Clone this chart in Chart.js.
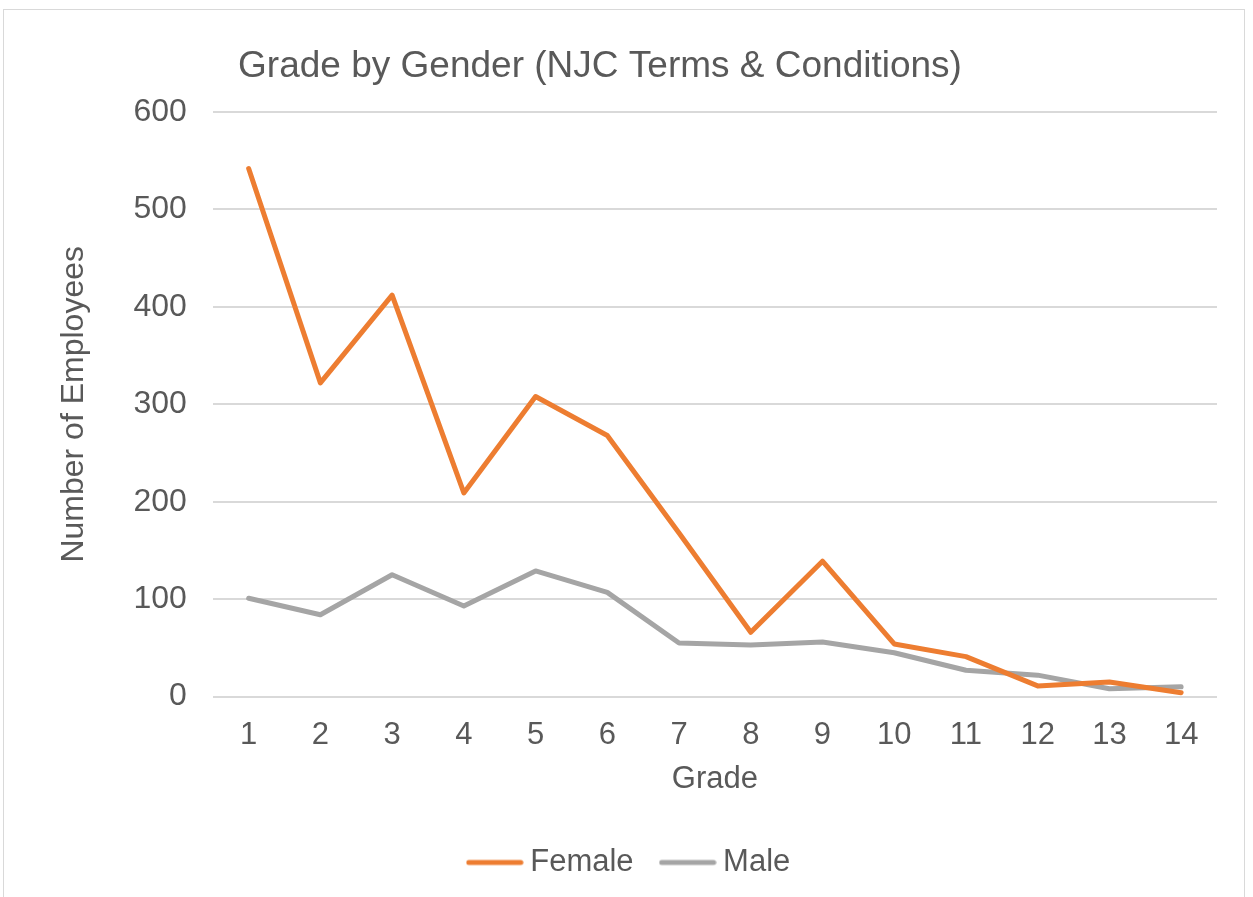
<!DOCTYPE html>
<html>
<head>
<meta charset="utf-8">
<script src="https://cdn.jsdelivr.net/npm/chart.js@4.4.0/dist/chart.umd.min.js"></script>
<style>
  html, body { margin: 0; padding: 0; background: #fff; }
  #wrap { position: relative; width: 1253px; height: 897px; overflow: hidden; }
  #frame { position: absolute; left: 3px; top: 9px; width: 1242px; height: 900px; border: 1px solid #d9d9d9; box-sizing: border-box; }
  #c { position: absolute; left: 0; top: 0; }
</style>
</head>
<body>
<div id="wrap">
  <div id="frame"></div>
  <canvas id="c" width="1253" height="897"></canvas>
</div>
<script>
const grades = ["1","2","3","4","5","6","7","8","9","10","11","12","13","14"];
const female = [542, 322, 412, 209, 308, 268, 168, 66, 139, 54, 41, 11, 15, 4];
const male = [101, 84, 125, 93, 129, 107, 55, 53, 56, 45, 27, 22, 8, 10];
const yTicks = [0, 100, 200, 300, 400, 500, 600];
const chartTitle = "Grade by Gender (NJC Terms & Conditions)";

const textColor = '#595959';
const fontFamily = '"Liberation Sans", Arial, sans-serif';
const orange = '#ED7D31';
const grey = '#A5A5A5';

// small canvas used as legend marker: a short thick line with round ends
function legendLine(color) {
  const cv = document.createElement('canvas');
  cv.width = 58; cv.height = 8;
  const c = cv.getContext('2d');
  c.strokeStyle = color;
  c.lineWidth = 5;
  c.lineCap = 'round';
  c.beginPath();
  c.moveTo(3, 4);
  c.lineTo(55, 4);
  c.stroke();
  return cv;
}

// title drawn slightly left of centre, like the original
const titlePlugin = {
  id: 'sheetTitle',
  afterDraw(chart) {
    const ctx = chart.ctx;
    ctx.save();
    ctx.fillStyle = textColor;
    ctx.font = '37px ' + fontFamily;
    ctx.textAlign = 'center';
    ctx.textBaseline = 'middle';
    ctx.fillText(chartTitle, 600, 67);
    ctx.restore();
  }
};

new Chart(document.getElementById('c'), {
  type: 'line',
  data: {
    labels: grades,
    datasets: [{
      label: 'Female',
      data: female,
      borderColor: orange,
      backgroundColor: orange,
      borderWidth: 5,
      borderCapStyle: 'round',
      borderJoinStyle: 'round',
      pointRadius: 0,
      pointStyle: legendLine(orange),
      tension: 0
    }, {
      label: 'Male',
      data: male,
      borderColor: grey,
      backgroundColor: grey,
      borderWidth: 5,
      borderCapStyle: 'round',
      borderJoinStyle: 'round',
      pointRadius: 0,
      pointStyle: legendLine(grey),
      tension: 0
    }]
  },
  options: {
    responsive: false,
    animation: false,
    layout: { padding: { left: 48, right: 36, top: 112, bottom: 9 } },
    plugins: {
      title: { display: false },
      tooltip: { enabled: false },
      legend: {
        position: 'bottom',
        labels: {
          color: textColor,
          font: { size: 31, family: fontFamily },
          usePointStyle: true,
          pointStyleWidth: 40,
          boxHeight: 8,
          padding: 34
        }
      }
    },
    scales: {
      x: {
        offset: true,
        grid: { display: false, drawTicks: false },
        border: { display: false },
        ticks: { color: textColor, font: { size: 31, family: fontFamily }, padding: 20 },
        title: {
          display: true, text: 'Grade', color: textColor,
          font: { size: 31, family: fontFamily },
          padding: { top: -13, bottom: 15 }
        }
      },
      y: {
        min: 0, max: 600,
        afterBuildTicks(axis) { axis.ticks = yTicks.map(v => ({ value: v })); },
        grid: { color: '#d9d9d9', lineWidth: 2, drawTicks: false },
        border: { display: false },
        ticks: { color: textColor, font: { size: 32, family: fontFamily }, padding: 26 },
        title: {
          display: true, text: 'Number of Employees', color: textColor,
          font: { size: 32, family: fontFamily },
          padding: { top: 7, bottom: 14 }
        }
      }
    }
  },
  plugins: [titlePlugin]
});
</script>
</body>
</html>
